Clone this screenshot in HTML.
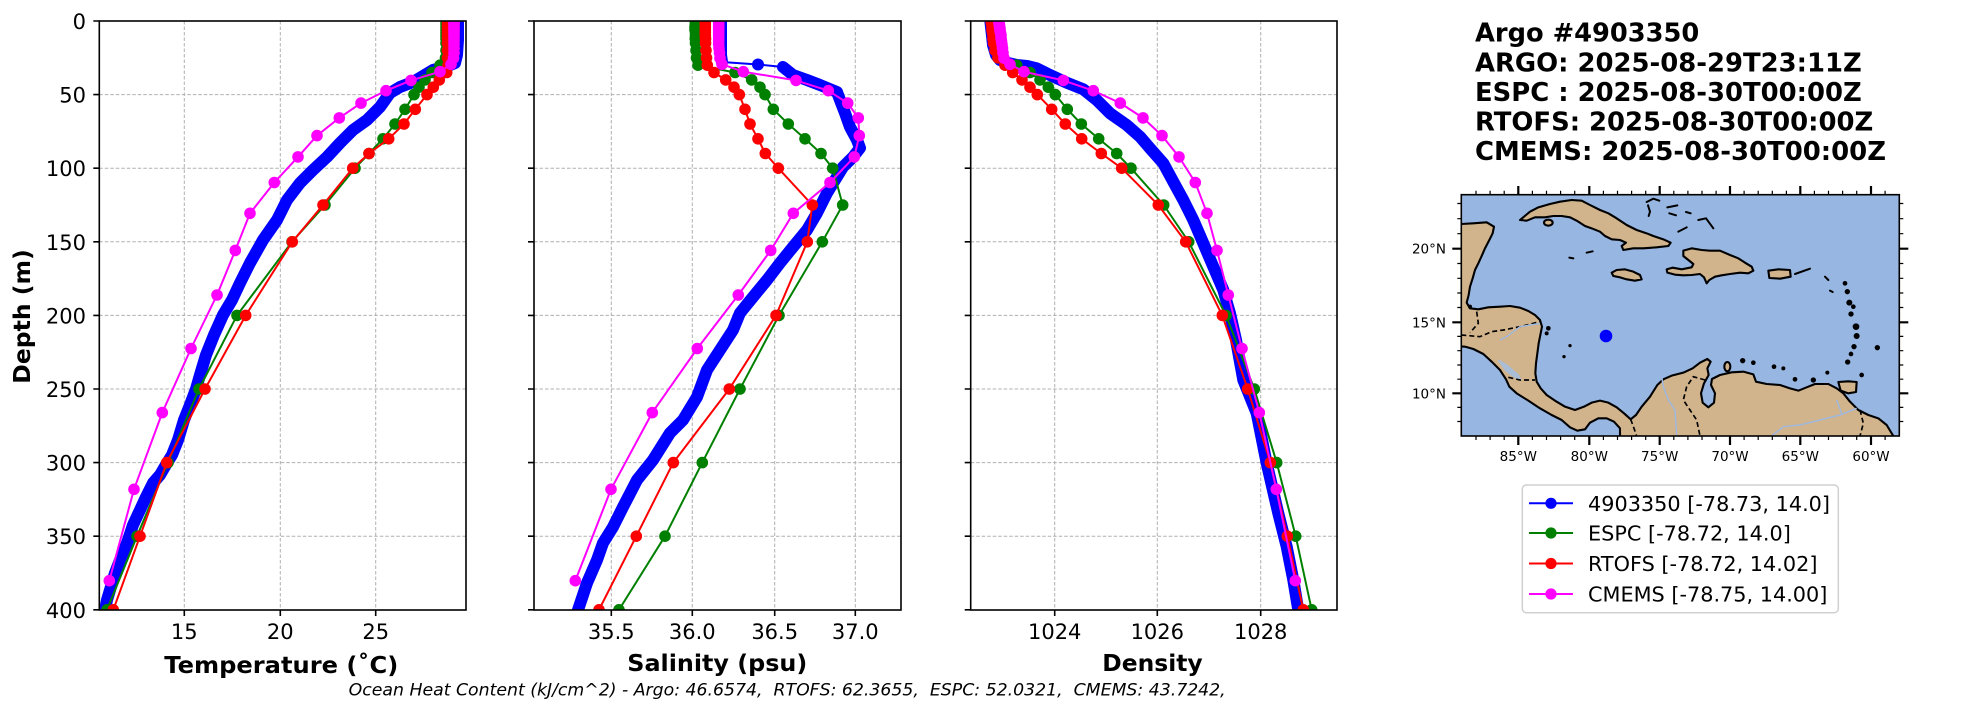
<!DOCTYPE html>
<html><head><meta charset="utf-8"><style>
html,body{margin:0;padding:0;background:#fff;}
svg{display:block;}
</style></head><body>
<svg width="1967" height="712" viewBox="0 0 1967 712" xmlns="http://www.w3.org/2000/svg" font-family="'DejaVu Sans','Liberation Sans',sans-serif">
<defs>
<clipPath id="c1"><rect x="99.3" y="21" width="366.7" height="589"/></clipPath>
<clipPath id="c2"><rect x="534" y="21" width="367" height="589"/></clipPath>
<clipPath id="c3"><rect x="970.7" y="21" width="366.3" height="589"/></clipPath>
<clipPath id="cm"><rect x="1461.3" y="194.7" width="438" height="241.3"/></clipPath>
<marker id="mG" viewBox="0 0 14 14" refX="7" refY="7" markerWidth="14" markerHeight="14" markerUnits="userSpaceOnUse"><circle cx="7" cy="7" r="5.8" fill="#008000"/></marker>
<marker id="mR" viewBox="0 0 14 14" refX="7" refY="7" markerWidth="14" markerHeight="14" markerUnits="userSpaceOnUse"><circle cx="7" cy="7" r="5.8" fill="#ff0000"/></marker>
<marker id="mM" viewBox="0 0 14 14" refX="7" refY="7" markerWidth="14" markerHeight="14" markerUnits="userSpaceOnUse"><circle cx="7" cy="7" r="5.8" fill="#ff00ff"/></marker>
<marker id="mB" viewBox="0 0 14 14" refX="7" refY="7" markerWidth="14" markerHeight="14" markerUnits="userSpaceOnUse"><circle cx="7" cy="7" r="6" fill="#0000ff"/></marker>
</defs>

<g stroke="#b0b0b0" stroke-width="1" stroke-dasharray="3.5,2" fill="none">
<path d="M184.3 21V610M280.3 21V610M375.7 21V610M99.3 94.6H466M99.3 168.2H466M99.3 241.8H466M99.3 315.4H466M99.3 389H466M99.3 462.6H466M99.3 536.2H466"/>
<path d="M611.3 21V610M692.3 21V610M774.7 21V610M855.3 21V610M534 94.6H901M534 168.2H901M534 241.8H901M534 315.4H901M534 389H901M534 462.6H901M534 536.2H901"/>
<path d="M1054.7 21V610M1157.3 21V610M1260.7 21V610M970.7 94.6H1337M970.7 168.2H1337M970.7 241.8H1337M970.7 315.4H1337M970.7 389H1337M970.7 462.6H1337M970.7 536.2H1337"/>
</g>

<g clip-path="url(#c1)" fill="none" stroke-linejoin="round">
<polyline stroke="#0000ff" stroke-width="12" stroke-linecap="round" points="458,18 458,40 457,55 455,63 445,67 433,70 413,82 400,87 390,93 380,107 367,120 353,130 340,143 327,157 313,170 300,183 287,200 277,220 263,240 250,263 240,283 232,300 223,315 214,335 206,355 200,375 196,389 190,405 184,420 178,440 172,455 167,463 160,475 153,483 146,497 140,510 133,525 127,543 120,560 115,573 110,590 107,600 105,610 104,616"/>
<polyline stroke="#008000" stroke-width="2" marker-start="url(#mG)" marker-mid="url(#mG)" marker-end="url(#mG)" points="446,21 446,23.9 446,26.9 446,29.8 446,32.8 446,35.7 446,38.7 446,43.1 446,50.4 445.5,57.8 440,65.2 432,72.5 425,79.9 419,87.2 414,94.6 405,109.3 395,124 383,138.8 369,153.5 355,168.2 325,205 292,241.8 237,315.4 199,389 168,462.6 137,536.2 107,609.8"/>
<polyline stroke="#ff0000" stroke-width="2" marker-start="url(#mR)" marker-mid="url(#mR)" marker-end="url(#mR)" points="447.5,21 447.5,23.9 447.5,26.9 447.5,29.8 447.5,32.8 447.5,35.7 447.5,38.7 447.5,43.1 447.5,50.4 447.5,57.8 448,65.2 446.7,72.5 439.3,79.9 433.3,87.2 427,94.6 415.3,109.3 404,124 388.7,138.8 369,153.5 352.7,168.2 323,205 292.3,241.8 245.7,315.4 205,389 166.7,462.6 140,536.2 113.3,609.8"/>
<polyline stroke="#ff00ff" stroke-width="2" marker-start="url(#mM)" marker-mid="url(#mM)" marker-end="url(#mM)" points="454,21.7 454,23.3 454,24.9 454,26.6 454,28.5 454,30.5 454,32.7 454,35.1 454,37.8 454,40.8 454,44.3 454,48.2 454,52.8 453.5,58.1 451,64.3 440,71.7 411,80.4 386,90.7 361,103.1 339.3,117.9 317,135.6 298,156.9 274.3,182.5 250,213.3 235.3,250.4 217,295 191,348.5 162.3,412.6 134,489.3 109.3,580.7"/>
</g>

<g clip-path="url(#c2)" fill="none" stroke-linejoin="round">
<polyline stroke="#0000ff" stroke-width="12" stroke-linecap="round" points="721,18 721,40 721,55 722,62"/>
<polyline stroke="#0000ff" stroke-width="2" marker-mid="url(#mB)" points="722,62 758,64.5 783,67"/>
<polyline stroke="#0000ff" stroke-width="12" stroke-linecap="round" points="783,67 793,75 807,80 820,85 837,92 840,100 845,113 850,127 857,140 860,148 853,157 843,167 835,180 827,193 817,213 807,230 793,247 780,263 767,280 753,297 740,313 733,330 720,350 707,370 697,397 683,420 670,433 653,460 637,480 623,507 613,527 603,543 597,560 587,583 578,610 576,616"/>
<polyline stroke="#008000" stroke-width="2" marker-start="url(#mG)" marker-mid="url(#mG)" marker-end="url(#mG)" points="695.3,21 695.3,23.9 695,26.9 695,29.8 695.5,32.8 695.5,35.7 695.3,38.7 695.5,43.1 696,50.4 696.5,57.8 698,65.2 735,72.5 751.7,79.9 760,87.2 765,94.6 773.3,109.3 788.3,124 805,138.8 821,153.5 832.7,168.2 842.7,205 822.3,241.8 779,315.4 740,389 702.3,462.6 665,536.2 619,609.8"/>
<polyline stroke="#ff0000" stroke-width="2" marker-start="url(#mR)" marker-mid="url(#mR)" marker-end="url(#mR)" points="705.3,21 705.3,23.9 705.3,26.9 705.3,29.8 705.3,32.8 705.3,35.7 705.5,38.7 705.5,43.1 706,50.4 706.5,57.8 707.3,65.2 714,72.5 725.7,79.9 734,87.2 739.3,94.6 745,109.3 750,124 758,138.8 765.3,153.5 778.3,168.2 812.3,205 807.3,241.8 776,315.4 729.3,389 673.3,462.6 636.3,536.2 599,609.8"/>
<polyline stroke="#ff00ff" stroke-width="2" marker-start="url(#mM)" marker-mid="url(#mM)" marker-end="url(#mM)" points="718.7,21.7 718.7,23.3 718.7,24.9 718.7,26.6 718.7,28.5 718.7,30.5 718.7,32.7 718.7,35.1 718.7,37.8 718.7,40.8 718.7,44.3 719,48.2 719.5,52.8 720,58.1 722,64.3 743.3,71.7 796,80.4 828.3,90.7 847.7,103.1 858.3,117.9 859.3,135.6 854.3,156.9 830,182.5 793.3,213.3 770.7,250.4 738.3,295 697.3,348.5 652.3,412.6 611,489.3 575.3,580.7"/>
</g>

<g clip-path="url(#c3)" fill="none" stroke-linejoin="round">
<polyline stroke="#0000ff" stroke-width="12" stroke-linecap="round" points="990,18 991.7,33 993,45 996,55 1000,60 1008,63 1016.7,65 1027,66 1036.7,68.3 1050,75 1066.7,82.7 1083.3,89.3 1096.7,100 1110,113.3 1126.7,125 1140,136.7 1150,148.3 1163.3,163.3 1173.3,181.7 1183.3,200 1193.3,220 1203.3,243.3 1213.3,266.7 1223.3,290 1230,313.3 1236,340 1243.3,380 1256.7,413.3 1266.7,463.3 1278.3,513.3 1286.7,546.7 1293.3,580 1298.3,610 1299.5,616"/>
<polyline stroke="#008000" stroke-width="2" marker-start="url(#mG)" marker-mid="url(#mG)" marker-end="url(#mG)" points="993,21 993.5,23.9 994,26.9 994,29.8 994.5,32.8 995,35.7 995,38.7 995.5,43.1 996,50.4 998,57.8 1016.7,65.2 1030,72.5 1040,79.9 1048.3,87.2 1055.3,94.6 1067.3,109.3 1081.3,124 1098.7,138.8 1116.7,153.5 1131,168.2 1163.7,205 1188.7,241.8 1226,315.4 1254.3,389 1276.7,462.6 1295.7,536.2 1311.7,609.8"/>
<polyline stroke="#ff0000" stroke-width="2" marker-start="url(#mR)" marker-mid="url(#mR)" marker-end="url(#mR)" points="991,21 991.5,23.9 992,26.9 992,29.8 992.5,32.8 993,35.7 993,38.7 993.5,43.1 995,50.4 998,57.8 1005,65.2 1012.7,72.5 1022,79.9 1030,87.2 1037.3,94.6 1051.7,109.3 1065.3,124 1081.7,138.8 1101.3,153.5 1121.7,168.2 1158.3,205 1185.7,241.8 1222.3,315.4 1247.7,389 1270.3,462.6 1287.3,536.2 1303.3,609.8"/>
<polyline stroke="#ff00ff" stroke-width="2" marker-start="url(#mM)" marker-mid="url(#mM)" marker-end="url(#mM)" points="999,21.7 999,23.3 999.5,24.9 999.5,26.6 1000,28.5 1000,30.5 1000.5,32.7 1001,35.1 1001,37.8 1001.5,40.8 1002,44.3 1002.5,48.2 1003,52.8 1004,58.1 1010,64.3 1024,71.7 1063.3,80.4 1093.3,90.7 1120.3,103.1 1143,117.9 1162,135.6 1179,156.9 1195.3,182.5 1207,213.3 1217,250.4 1228.3,295 1242,348.5 1259.3,412.6 1276.3,489.3 1295.3,580.7"/>
</g>

<g fill="none" stroke="#000" stroke-width="1.6">
<rect x="99.3" y="21" width="366.7" height="589"/>
<rect x="534" y="21" width="367" height="589"/>
<rect x="970.7" y="21" width="366.3" height="589"/>
<path d="M93.3 21H99.3M93.3 94.6H99.3M93.3 168.2H99.3M93.3 241.8H99.3M93.3 315.4H99.3M93.3 389H99.3M93.3 462.6H99.3M93.3 536.2H99.3M93.3 609.8H99.3"/>
<path d="M528 21H534M528 94.6H534M528 168.2H534M528 241.8H534M528 315.4H534M528 389H534M528 462.6H534M528 536.2H534M528 609.8H534"/>
<path d="M964.7 21H970.7M964.7 94.6H970.7M964.7 168.2H970.7M964.7 241.8H970.7M964.7 315.4H970.7M964.7 389H970.7M964.7 462.6H970.7M964.7 536.2H970.7M964.7 609.8H970.7"/>
<path d="M184.3 610V616M280.3 610V616M375.7 610V616M611.3 610V616M692.3 610V616M774.7 610V616M855.3 610V616M1054.7 610V616M1157.3 610V616M1260.7 610V616"/>
</g>

<g font-size="21" fill="#000">
<g text-anchor="end">
<text x="86" y="29">0</text><text x="86" y="102.6">50</text><text x="86" y="176.2">100</text><text x="86" y="249.8">150</text><text x="86" y="323.4">200</text><text x="86" y="397">250</text><text x="86" y="470.6">300</text><text x="86" y="544.2">350</text><text x="86" y="617.8">400</text>
</g>
<g text-anchor="middle">
<text x="184.3" y="639">15</text><text x="280.3" y="639">20</text><text x="375.7" y="639">25</text>
<text x="611.3" y="639">35.5</text><text x="692.3" y="639">36.0</text><text x="774.7" y="639">36.5</text><text x="855.3" y="639">37.0</text>
<text x="1054.7" y="639">1024</text><text x="1157.3" y="639">1026</text><text x="1260.7" y="639">1028</text>
</g>
</g>

<g font-size="23.5" font-weight="bold" fill="#000">
<text x="164.3" y="673" textLength="234" lengthAdjust="spacingAndGlyphs">Temperature (˚C)</text>
<text x="627.3" y="671" textLength="180" lengthAdjust="spacingAndGlyphs">Salinity (psu)</text>
<text x="1102.3" y="671" textLength="100.4" lengthAdjust="spacingAndGlyphs">Density</text>
<text transform="translate(30,316.5) rotate(-90)" text-anchor="middle">Depth (m)</text>
</g>

<text x="348.7" y="695.5" font-size="16.7" font-style="italic" fill="#000" xml:space="preserve" style="white-space:pre" textLength="877" lengthAdjust="spacingAndGlyphs">Ocean Heat Content (kJ/cm^2) - Argo: 46.6574,  RTOFS: 62.3655,  ESPC: 52.0321,  CMEMS: 43.7242,</text>

<g font-size="25.5" font-weight="bold" fill="#000">
<text x="1475" y="41.7" textLength="224.3" lengthAdjust="spacingAndGlyphs">Argo #4903350</text>
<text x="1475" y="71.5" textLength="386.7" lengthAdjust="spacingAndGlyphs">ARGO: 2025-08-29T23:11Z</text>
<text x="1475" y="101" textLength="386.7" lengthAdjust="spacingAndGlyphs">ESPC : 2025-08-30T00:00Z</text>
<text x="1475" y="130.5" textLength="398.3" lengthAdjust="spacingAndGlyphs">RTOFS: 2025-08-30T00:00Z</text>
<text x="1475" y="160" textLength="411" lengthAdjust="spacingAndGlyphs">CMEMS: 2025-08-30T00:00Z</text>
</g>

<g clip-path="url(#cm)">
<rect x="1461.3" y="194.7" width="438" height="241.3" fill="#97b6e1"/>
<g transform="translate(1420,180) scale(0.333333)" fill="#d2b48c" stroke="#000" stroke-width="6.3" stroke-linejoin="round">
<polygon points="100,132 124,132 160,130 200,127 222,140 218,160 208,180 195,205 185,228 175,250 165,270 158,295 150,320 146,345 140,368 150,385 175,388 205,382 240,380 270,378 300,383 325,393 345,405 360,420 366,440 362,460 356,490 352,520 348,550 346,580 350,605 362,625 380,645 405,662 435,680 465,690 492,680 515,668 540,662 565,668 590,682 612,700 632,718 648,705 665,680 690,650 712,615 730,598 755,587 790,578 818,565 840,548 862,537 872,545 862,565 866,585 852,610 843,640 848,668 865,682 882,668 885,640 873,615 876,597 900,585 935,577 970,575 1000,583 1008,605 1040,612 1080,615 1110,625 1135,632 1160,622 1185,612 1225,612 1250,625 1270,640 1290,665 1315,690 1345,705 1375,715 1400,735 1420,768 1425,800 600,800 600,745 582,725 560,715 535,715 510,728 495,748 472,752 450,742 425,720 395,705 360,685 325,662 290,640 268,620 258,598 240,570 215,545 190,522 160,507 135,500 100,498"/>
<polygon points="300,120 318,105 330,95 355,82 390,72 420,65 455,60 485,62 510,75 540,90 565,100 590,115 620,135 650,150 680,160 700,168 730,178 752,188 745,198 710,202 670,205 640,205 610,210 605,198 618,188 600,180 575,178 555,168 540,155 515,145 495,138 470,122 450,112 425,108 400,108 375,112 345,112 320,122"/>
<ellipse cx="385" cy="128" rx="13" ry="9"/>
<polygon points="790,212 815,205 845,210 870,212 900,212 930,225 955,235 975,248 995,260 1000,272 985,280 960,278 930,282 905,286 885,290 868,300 860,310 852,292 840,282 815,285 790,286 765,284 742,278 740,268 758,263 785,268 815,262 820,252 805,240 790,228"/>
<polygon points="575,278 590,270 615,268 640,275 660,285 665,298 645,302 620,298 600,292 580,288"/>
<polygon points="1045,272 1075,268 1110,270 1112,290 1080,296 1048,294"/>
<polygon points="1255,606 1285,604 1310,606 1308,636 1285,640 1262,632"/>
<ellipse cx="922" cy="560" rx="9" ry="14"/>
</g>
<g transform="translate(1420,180) scale(0.333333)" fill="#000" stroke="#000" stroke-width="6" stroke-linecap="round">
<path fill="none" d="M680,66 L700,56 L718,62 M684,76 L690,95 L686,108 M742,82 L772,76 M748,100 L768,106 M798,96 L812,100 M835,120 L858,115 L880,145 M775,155 L800,142 M448,233 L460,235 M500,218 L518,214 M1125,282 L1170,266 M1215,290 L1225,300 M1230,332 L1238,336"/>
<g stroke="none">
<circle cx="1275" cy="310" r="7"/><circle cx="1282" cy="335" r="8"/><circle cx="1288" cy="368" r="9"/><circle cx="1300" cy="380" r="7"/><circle cx="1293" cy="402" r="8"/><circle cx="1308" cy="440" r="10"/><circle cx="1310" cy="468" r="9"/><circle cx="1302" cy="500" r="8"/><circle cx="1293" cy="522" r="7"/><circle cx="1283" cy="546" r="8"/><circle cx="1372" cy="503" r="8"/><circle cx="1325" cy="585" r="7"/>
<circle cx="968" cy="542" r="8"/><circle cx="1000" cy="548" r="7"/><circle cx="1062" cy="560" r="7"/><circle cx="1090" cy="565" r="6"/><circle cx="1125" cy="598" r="7"/><circle cx="1180" cy="600" r="8"/><circle cx="1222" cy="578" r="6"/>
<circle cx="450" cy="497" r="5"/><circle cx="432" cy="530" r="5"/><circle cx="385" cy="445" r="7"/><circle cx="380" cy="460" r="6"/><circle cx="150" cy="380" r="6"/>
</g>
</g>
<g transform="translate(1420,180) scale(0.333333)" fill="none" stroke="#000" stroke-width="5" stroke-dasharray="15,9">
<path d="M124,465 L180,470 L215,455 L250,450 L300,440 L340,430 L360,425"/>
<path d="M265,592 L300,600 L345,600"/>
<path d="M632,718 L642,745 L650,768"/>
<path d="M855,600 L820,590 L800,620 L790,660 L810,690 L830,720 L840,768"/>
<path d="M1320,690 L1330,730 L1320,768"/>
<path d="M170,395 L175,430 L150,458"/>
</g>
<g transform="translate(1420,180) scale(0.333333)" fill="none" stroke="#9fb8dd" stroke-width="4.5">
<path d="M725,590 L730,620 L745,660 L765,690 L770,768"/>
<path d="M1055,768 L1090,740 L1140,735 L1200,720 L1260,705 L1310,685"/>
<path d="M1250,660 L1265,700"/>
<path d="M240,480 L260,470 L300,440 L360,430"/>
<path fill="#a9bdd6" stroke="#a9bdd6" d="M235,540 L260,555 L295,585 L300,595 L285,592 L258,572 Z"/>
</g>
<circle cx="1606" cy="336" r="6.3" fill="#0000ff"/>
</g>
<rect x="1461.3" y="194.7" width="438" height="241.3" fill="none" stroke="#000" stroke-width="1.6"/>
<g stroke="#000" stroke-width="2.2" fill="none">
<path d="M1518.3 194.7V186M1589.3 194.7V186M1659.7 194.7V186M1730 194.7V186M1800.3 194.7V186M1871 194.7V186"/>
<path d="M1518.3 436V445M1589.3 436V445M1659.7 436V445M1730 436V445M1800.3 436V445M1871 436V445"/>
<path d="M1461.3 248.7H1452.3M1461.3 322.3H1452.3M1461.3 393.3H1452.3M1899.3 248.7H1908.3M1899.3 322.3H1908.3M1899.3 393.3H1908.3"/>
</g>
<g stroke="#000" stroke-width="1.2" fill="none">
<path d="M1476 194.7v-4M1490.1 194.7v-4M1504.2 194.7v-4M1532.4 194.7v-4M1546.5 194.7v-4M1560.6 194.7v-4M1574.7 194.7v-4M1603.4 194.7v-4M1617.5 194.7v-4M1631.6 194.7v-4M1645.7 194.7v-4M1673.8 194.7v-4M1687.9 194.7v-4M1702 194.7v-4M1716.1 194.7v-4M1744.1 194.7v-4M1758.2 194.7v-4M1772.3 194.7v-4M1786.4 194.7v-4M1814.4 194.7v-4M1828.5 194.7v-4M1842.6 194.7v-4M1856.7 194.7v-4M1885.1 194.7v-4"/>
<path d="M1476 436v4M1490.1 436v4M1504.2 436v4M1532.4 436v4M1546.5 436v4M1560.6 436v4M1574.7 436v4M1603.4 436v4M1617.5 436v4M1631.6 436v4M1645.7 436v4M1673.8 436v4M1687.9 436v4M1702 436v4M1716.1 436v4M1744.1 436v4M1758.2 436v4M1772.3 436v4M1786.4 436v4M1814.4 436v4M1828.5 436v4M1842.6 436v4M1856.7 436v4M1885.1 436v4"/>
<path d="M1461.3 421.5h-4M1461.3 407.4h-4M1461.3 379.2h-4M1461.3 365h-4M1461.3 350.7h-4M1461.3 336.4h-4M1461.3 307.5h-4M1461.3 293h-4M1461.3 278.3h-4M1461.3 263.5h-4M1461.3 233.7h-4M1461.3 218.7h-4M1461.3 203.5h-4"/>
<path d="M1899.3 421.5h4M1899.3 407.4h4M1899.3 379.2h4M1899.3 365h4M1899.3 350.7h4M1899.3 336.4h4M1899.3 307.5h4M1899.3 293h4M1899.3 278.3h4M1899.3 263.5h4M1899.3 233.7h4M1899.3 218.7h4M1899.3 203.5h4"/>
</g>
<g font-size="13.5" fill="#000">
<g text-anchor="middle">
<text x="1518.3" y="461">85°W</text><text x="1589.3" y="461">80°W</text><text x="1659.7" y="461">75°W</text><text x="1730" y="461">70°W</text><text x="1800.3" y="461">65°W</text><text x="1871" y="461">60°W</text>
</g>
<g text-anchor="end">
<text x="1446" y="253.7">20°N</text><text x="1446" y="327.3">15°N</text><text x="1446" y="398.3">10°N</text>
</g>
</g>

<rect x="1522.3" y="485" width="316" height="127.7" rx="4" ry="4" fill="#fff" fill-opacity="0.8" stroke="#d0d0d0" stroke-width="1.5"/>
<g stroke-width="2">
<line x1="1529" y1="503.3" x2="1573" y2="503.3" stroke="#0000ff"/><circle cx="1551" cy="503.3" r="5.6" fill="#0000ff"/>
<line x1="1529" y1="533" x2="1573" y2="533" stroke="#008000"/><circle cx="1551" cy="533" r="5.6" fill="#008000"/>
<line x1="1529" y1="563.5" x2="1573" y2="563.5" stroke="#ff0000"/><circle cx="1551" cy="563.5" r="5.6" fill="#ff0000"/>
<line x1="1529" y1="594" x2="1573" y2="594" stroke="#ff00ff"/><circle cx="1551" cy="594" r="5.6" fill="#ff00ff"/>
</g>
<g font-size="20.8" fill="#000">
<text x="1588" y="510.8">4903350 [-78.73, 14.0]</text>
<text x="1588" y="540.5">ESPC [-78.72, 14.0]</text>
<text x="1588" y="571">RTOFS [-78.72, 14.02]</text>
<text x="1588" y="601.5">CMEMS [-78.75, 14.00]</text>
</g>
</svg>
</body></html>
